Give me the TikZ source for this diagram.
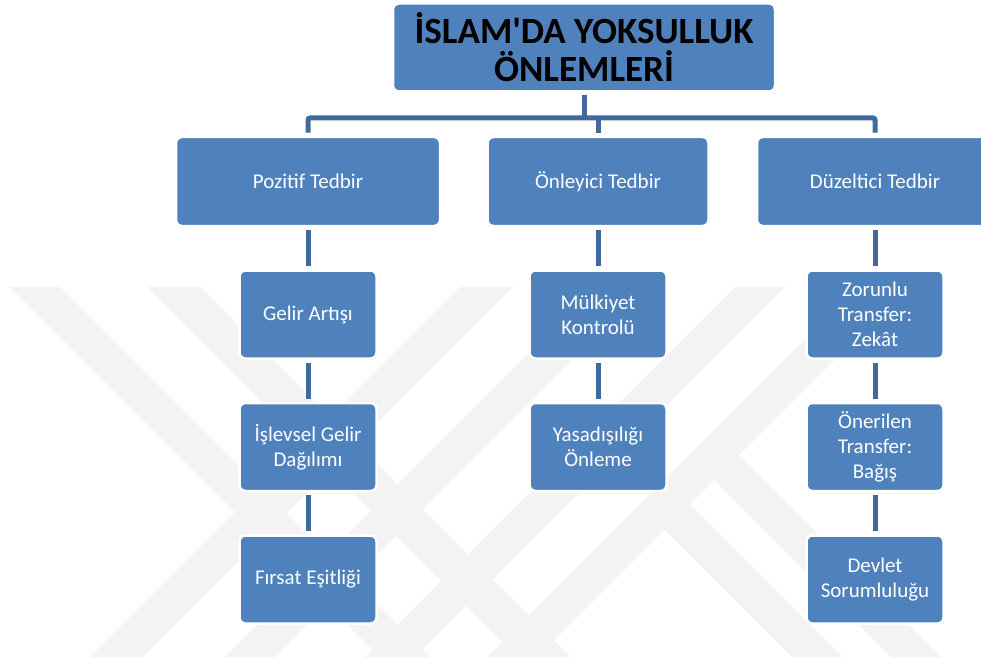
\documentclass[tikz,border=0pt]{standalone}
\usepackage{fontspec}
\setmainfont{Carlito}[Ligatures=TeXOff]
\usetikzlibrary{positioning, calc}
\definecolor{boxblue}{HTML}{4F81BD}
\definecolor{lineblue}{HTML}{41699B}
\definecolor{wmgray}{HTML}{F3F3F3}
\tikzstyle{block} = [rectangle, rounded corners=6pt, minimum height=88pt, align=center, draw=white, line width=2.5pt, fill=boxblue, text=white, font=\fontsize{21}{25}\selectfont, inner sep=2pt]
\tikzstyle{leaf} = [block, minimum width=137pt]
\tikzstyle{link} = [line width=5pt, draw=lineblue]
\tikzstyle{wmark} = [fill=wmgray]

\begin{document}
\begin{tikzpicture}[x=1pt, y=1pt, node distance=42pt]
  \useasboundingbox (0,0) rectangle (981,-660);
  % watermark
  \fill[wmark] (10,-287) -- (60,-287) -- (430,-657) -- (380,-657) -- cycle;
  \fill[wmark] (147,-287) -- (200,-287) -- (570,-657) -- (517,-657) -- cycle;
  \fill[wmark] (460,-287) -- (513,-287) -- (143,-657) -- (90,-657) -- cycle;
  \fill[wmark] (595,-287) -- (645,-287) -- (275,-657) -- (225,-657) -- cycle;
  \fill[wmark] (735,-287) -- (785,-287) -- (415,-657) -- (365,-657) -- cycle;
  \fill[wmark] (857,-287) -- (907,-287) -- (537,-657) -- (487,-657) -- cycle;
  \fill[wmark] (640,-505) -- (690,-505) -- (842,-657) -- (792,-657) -- cycle;
  \fill[wmark] (689,-455) -- (739,-455) -- (941,-657) -- (891,-657) -- cycle;

  \node[block, text=black, font=\fontsize{37}{38}\selectfont\bfseries, minimum width=382pt, yshift=1.5pt] (title) at (584,-49) {İSLAM'DA YOKSULLUK\\ÖNLEMLERİ};

  \node[block, minimum width=264pt, minimum height=89pt] (pozitif) at (308,-181.5) {Pozitif Tedbir};
  \node[block, minimum width=221pt, minimum height=89pt] (onleyici) at (598,-181.5) {Önleyici Tedbir};
  \node[block, minimum width=236pt, minimum height=89pt] (duzeltici) at (875,-181.5) {Düzeltici Tedbir};

  \node[leaf, below=of pozitif] (gelir) {Gelir Artışı};
  \node[leaf, below=of gelir] (islevsel) {İşlevsel Gelir\\Dağılımı};
  \node[leaf, below=of islevsel] (firsat) {Fırsat Eşitliği};

  \node[leaf, below=of onleyici] (mulkiyet) {Mülkiyet\\Kontrolü};
  \node[leaf, below=of mulkiyet] (yasadisi) {Yasadışılığı\\Önleme};

  \node[leaf, below=of duzeltici] (zorunlu) {Zorunlu\\Transfer:\\Zekât};
  \node[leaf, below=of zorunlu] (onerilen) {Önerilen\\Transfer:\\Bağış};
  \node[leaf, below=of onerilen] (devlet) {Devlet\\Sorumluluğu};

  \coordinate (bar) at (584,-118);
  \draw[link, shorten <=2pt] (title.south) -- (title.south |- bar);
  \draw[link, rounded corners=2pt, shorten <=3pt, shorten >=3pt] (pozitif.north) |- (bar) -| (duzeltici.north);
  \draw[link, shorten <=3pt] (onleyici.north) -- (onleyici.north |- bar);

  \draw[link, shorten <=3pt, shorten >=3pt] (pozitif) -- (gelir);
  \draw[link, shorten <=3pt, shorten >=3pt] (gelir) -- (islevsel);
  \draw[link, shorten <=3pt, shorten >=3pt] (islevsel) -- (firsat);
  \draw[link, shorten <=3pt, shorten >=3pt] (onleyici) -- (mulkiyet);
  \draw[link, shorten <=3pt, shorten >=3pt] (mulkiyet) -- (yasadisi);
  \draw[link, shorten <=3pt, shorten >=3pt] (duzeltici) -- (zorunlu);
  \draw[link, shorten <=3pt, shorten >=3pt] (zorunlu) -- (onerilen);
  \draw[link, shorten <=3pt, shorten >=3pt] (onerilen) -- (devlet);
\end{tikzpicture}
\end{document}
